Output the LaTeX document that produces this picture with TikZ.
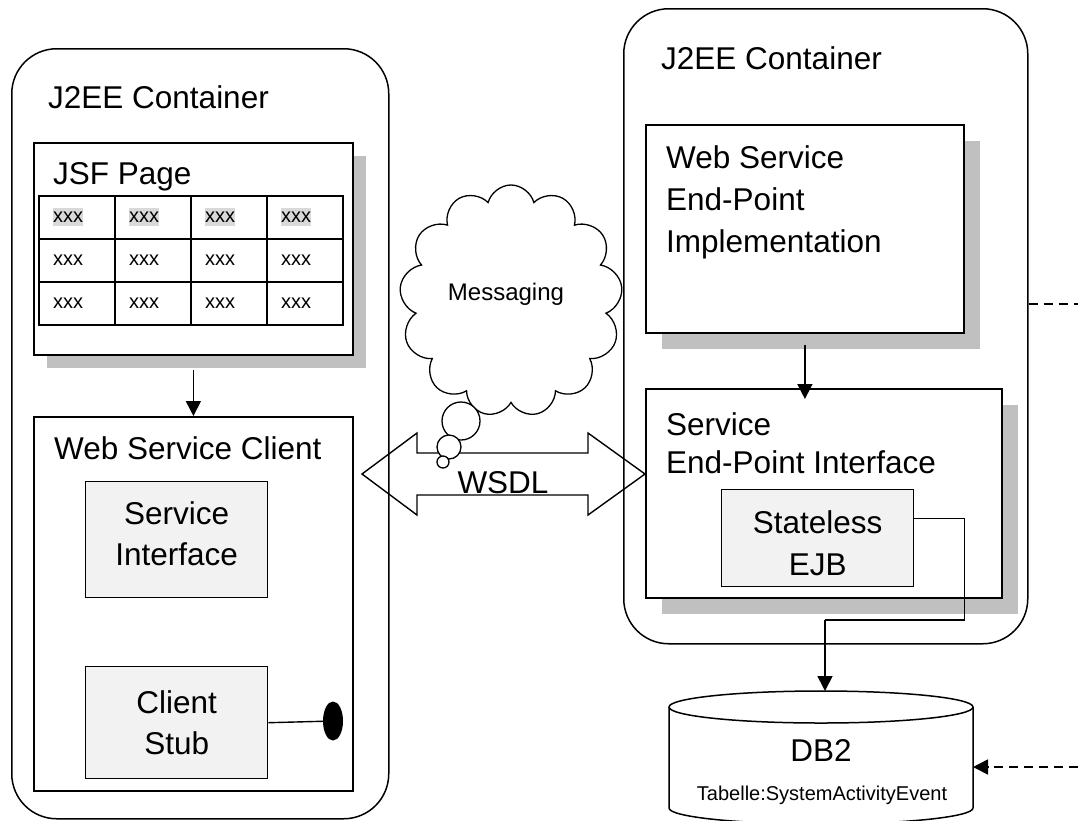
\documentclass[tikz,border=0pt]{standalone}
\usepackage{fontspec}
\setmainfont{Liberation Sans}
\usetikzlibrary{arrows.meta,calc,positioning,shadows,shapes.geometric,shapes.symbols}
\usepackage{xcolor}
\definecolor{shadowgray}{HTML}{C0C0C0}
\definecolor{boxgray}{HTML}{F2F2F2}
\definecolor{cellgray}{HTML}{D9D9D9}

\begin{document}
\begin{tikzpicture}[x=1pt,y=-1pt,
  container/.style={draw,line width=1.5pt,rounded corners=45pt,anchor=north west,inner sep=0pt},
  panel/.style={draw,fill=white,line width=1.8pt,anchor=north west,inner sep=0pt},
  shade13/.style={drop shadow={shadow xshift=13pt,shadow yshift=-13pt,fill=shadowgray,opacity=1}},
  shade16/.style={drop shadow={shadow xshift=16pt,shadow yshift=-16pt,fill=shadowgray,opacity=1}},
  part/.style={draw,fill=boxgray,line width=1.4pt,anchor=north west,inner sep=0pt,align=center},
  bigtext/.style={font=\fontsize{31.5}{41}\selectfont,inner sep=0pt},
  smalltext/.style={font=\fontsize{20}{24}\selectfont,inner sep=0pt},
  flow/.style={line width=1.7pt,-{Triangle[length=15pt,width=15pt]}}]
  \useasboundingbox (0,0) rectangle (1078,820);

  % Containers
  \node[container,minimum width=377pt,minimum height=770pt] (lc) at (11,48) {};
  \node[container,minimum width=404pt,minimum height=635pt] (rc) at (623,8) {};
  \node[bigtext,anchor=base west] (lctitle) at (48,108) {J2EE Container};
  \node[bigtext,anchor=base west] (rctitle) at (661,69) {J2EE Container};

  % JSF page with table
  \node[panel,shade13,minimum width=319pt,minimum height=212pt] (jsf) at (33,142) {};
  \node[bigtext,anchor=base west] (jsftitle) at (53,184) {JSF Page};
  \draw[line width=1.6pt] (39,196) rectangle (343,325);
  \foreach \gx in {115,191,267} \draw[line width=1.6pt] (\gx,196) -- (\gx,325);
  \foreach \gy in {239,282} \draw[line width=1.6pt] (39,\gy) -- (343,\gy);
  \foreach \c in {1,...,4} {
    \node[smalltext,fill=cellgray,inner ysep=4pt,anchor=west] (cell-1-\c) at (53+76*\c-76,217) {xxx};
    \foreach \r in {2,3}
      \node[smalltext,inner ysep=4pt,anchor=west] (cell-\r-\c) at (53+76*\c-76,174+43*\r) {xxx};
  }

  % Web service client
  \node[panel,minimum width=319pt,minimum height=374pt] (wsc) at (33,416) {};
  \node[bigtext,anchor=base west] (wsctitle) at (54,459) {Web Service Client};
  \node[part,bigtext,minimum width=182pt,minimum height=116pt,text depth=12pt] (si) at (85,481) {Service\\Interface};
  \node[part,bigtext,minimum width=182pt,minimum height=112pt] (stub) at (85,666) {Client\\Stub};
  \node[ellipse,fill=black,minimum width=20pt,minimum height=39pt,inner sep=0pt] (plug) at (333,721) {};
  \draw[line width=1.4pt] (stub.east) -- (plug);
  \draw[flow] ([yshift=-14pt]jsf.south) -- (wsc.north);

  % End-point side
  \node[panel,shade16,minimum width=318pt,minimum height=208pt] (impl) at (645,124) {};
  \node[bigtext,font=\fontsize{31.5}{42}\selectfont,align=left,anchor=base west] (impltext) at (666,252) {Web Service\\End-Point\\Implementation};
  \node[panel,shade16,minimum width=356pt,minimum height=209pt] (sei) at (645,388) {};
  \node[bigtext,font=\fontsize{31.5}{38}\selectfont,align=left,anchor=base west] (seitext) at (666,473) {Service\\End-Point Interface};
  \node[part,bigtext,font=\fontsize{31.5}{42}\selectfont,text height=75pt,minimum width=192pt,minimum height=97pt] (ejb) at (721,489) {Stateless\\EJB};
  \draw[flow] ([yshift=-11pt]impl.south) -- ([yshift=-11pt]impl.south |- sei.north);

  % Database
  \coordinate (dbtop) at (825,691);
  \draw[line width=1.5pt] (821,707) ellipse [x radius=152,y radius=16];
  \draw[line width=1.5pt] (669,707) -- (669,808) arc[start angle=180,end angle=0,x radius=152,y radius=16] -- (973,707);
  \node[bigtext,anchor=base] (db) at (821,761) {DB2};
  \node[smalltext,anchor=base] (table) at (822,800) {Tabelle:SystemActivityEvent};

  % EJB to DB2
  \coordinate (turn) at (825,620);
  \draw[line width=1.1pt] ([yshift=20pt]ejb.east) -- ++(50,0) |- (turn);
  \draw[flow] (turn) -- (dbtop);

  % Dashed links
  \coordinate (outR) at (1078,304);
  \coordinate (inR) at (1078,767);
  \coordinate (dbside) at (973,767);
  \draw[line width=1.1pt,dash pattern=on 9pt off 6pt] (rc.east |- outR) -- (outR);
  \draw[flow,dash pattern=on 9pt off 6pt] (inR) -- (dbside);

  % WSDL
  \coordinate (wl) at (362,474);
  \coordinate (wr) at (645,474);
  \draw[line width=1.4pt] (wl) -- ++(55,-41) -- ++(0,20) -- ++(171,0) -- ++(0,-20) -- (wr)
    -- ++(-57,41) -- ++(0,-20) -- ++(-171,0) -- ++(0,20) -- cycle;
  \node[bigtext,anchor=base] (wsdl) at (503,493) {WSDL};

  % Messaging cloud
  \node[cloud,draw,line width=1.3pt,cloud puffs=13,minimum width=223pt,minimum height=232pt,inner sep=0pt] (cloud) at (511,301) {};
  \node[font=\fontsize{24}{28}\selectfont,inner sep=0pt,anchor=base] (msg) at (506,300) {Messaging};
  \foreach \bx/\by/\bs [count=\i] in {461/421/38,449/447/24,443/462/12}
    \node[circle,draw,fill=white,line width=1.3pt,minimum size=\bs pt,inner sep=0pt] (bubble\i) at (\bx,\by) {};
\end{tikzpicture}
\end{document}
